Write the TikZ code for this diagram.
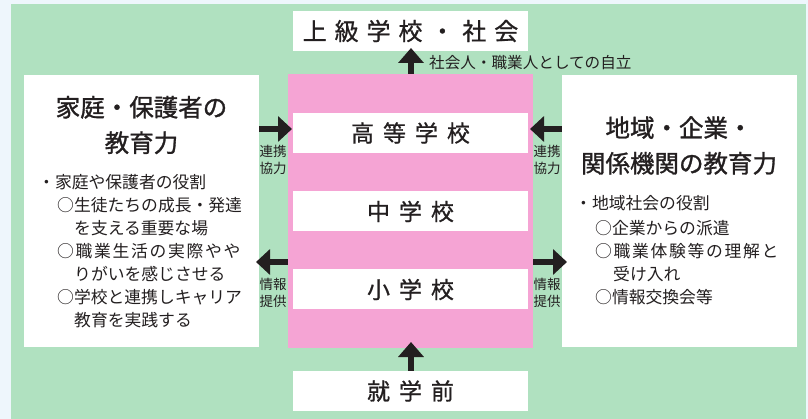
\documentclass[tikz,border=0pt]{standalone}
\usepackage{fontspec}
\setmainfont{Noto Sans CJK JP}
\newfontfamily\jphead[FakeBold=1.2]{Noto Sans CJK JP}
\newfontfamily\jpband[LetterSpace=39,FakeBold=0.8]{Noto Sans CJK JP}
\newfontfamily\jptop[LetterSpace=33,FakeBold=0.8]{Noto Sans CJK JP}
\newfontfamily\jpjust[LetterSpace=10]{Noto Sans CJK JP}
\usetikzlibrary{arrows.meta}
\definecolor{pagebg}{HTML}{EEF6FC}
\definecolor{meadow}{HTML}{B0E1C0}
\definecolor{blossom}{HTML}{F5A4D4}
\definecolor{ink}{HTML}{231F20}

\begin{document}
\begin{tikzpicture}
[x=1pt,y=-1pt,
every node/.style={text=ink},
box/.style={fill=white,inner sep=0pt,minimum width=235pt,minimum height=272pt},
band/.style={fill=white,inner sep=0pt,minimum width=235pt,minimum height=40pt,font=\jpband\fontsize{23}{23}\selectfont},
fat/.style={draw=ink,line width=6pt,-{Triangle[length=14pt,width=25pt]}},
tag/.style={align=center,inner sep=0pt,font=\fontsize{13.5}{17}\selectfont},
title/.style={align=center,inner sep=0pt,font=\jphead\fontsize{24.5}{35.5}\selectfont},
list/.style={anchor=base west,align=left,inner sep=0pt,font=\fontsize{16.8}{23}\selectfont}]
\useasboundingbox (0,0) rectangle (808,419);
\fill[pagebg] (0,0) rectangle (808,419);
\fill[meadow] (11,4) rectangle (806,419);

% the three blocks
\node[box] (home) at (141.5,211) {};
\node[box] (local) at (679.5,211) {};
\node[fill=blossom,inner sep=0pt,minimum width=245pt,minimum height=274pt] (school) at (410.5,211) {};

% schools
\node[band,font=\jptop\fontsize{24}{24}\selectfont] (top) at (410.5,31) {上級学校・社会};
\node[band] (high) at (410.5,133) {高等学校};
\node[band] (mid) at (410.5,211.5) {中学校};
\node[band] (ele) at (410.5,289.5) {小学校};
\node[band] (pre) at (410.5,391) {就学前};

% left block (base = last line)
\node[title] (hometitle) at (141.5,125) {家庭・保護者の\\教育力};
\node[list] (homelist) at (38,326.4) {・家庭や保護者の役割\\
\hspace*{19pt}○生徒たちの成長・発達\\
\hspace*{36pt}を支える重要な場\\
\hspace*{19pt}{\jpjust ○職業生活の実際やや}\\
\hspace*{36pt}りがいを感じさせる\\
\hspace*{19pt}○学校と連携しキャリア\\
\hspace*{36pt}教育を実践する};

% right block
\node[title] (localtitle) at (679,145.5) {地域・企業・\\関係機関の教育力};
\node[list] (locallist) at (575,303.4) {・地域社会の役割\\[2pt]
\hspace*{20pt}○企業からの派遣\\
\hspace*{20pt}{\jpjust ○職業体験等の理解と}\\
\hspace*{38pt}受け入れ\\
\hspace*{20pt}○情報交換会等};

% arrow ends
\coordinate (a1) at (292,129);
\coordinate (a2) at (530,129);
\coordinate (a3) at (256,262);
\coordinate (a4) at (567,262);
\coordinate (a5) at (411,48);
\coordinate (a6) at (411,342);

\draw[fat] (home.east |- a1) -- (a1);
\draw[fat] (local.west |- a2) -- (a2);
\draw[fat] (school.west |- a3) -- (a3);
\draw[fat] (school.east |- a4) -- (a4);
\draw[fat,-{Triangle[length=15pt,width=25pt]}] (a5 |- school.north) -- (a5);
\draw[fat,-{Triangle[length=15pt,width=25pt]}] (a6 |- pre.north) -- (a6);

% labels
\node[tag] (coop1) at (273,160) {連携\\協力};
\node[tag] (info1) at (273,292.5) {情報\\提供};
\node[tag] (coop2) at (547,160) {連携\\協力};
\node[tag] (info2) at (547,292.5) {情報\\提供};
\node[anchor=west,inner sep=0pt,font=\fontsize{15.6}{15.6}\selectfont] (goal) at (429,63) {社会人・職業人としての自立};
\end{tikzpicture}
\end{document}
